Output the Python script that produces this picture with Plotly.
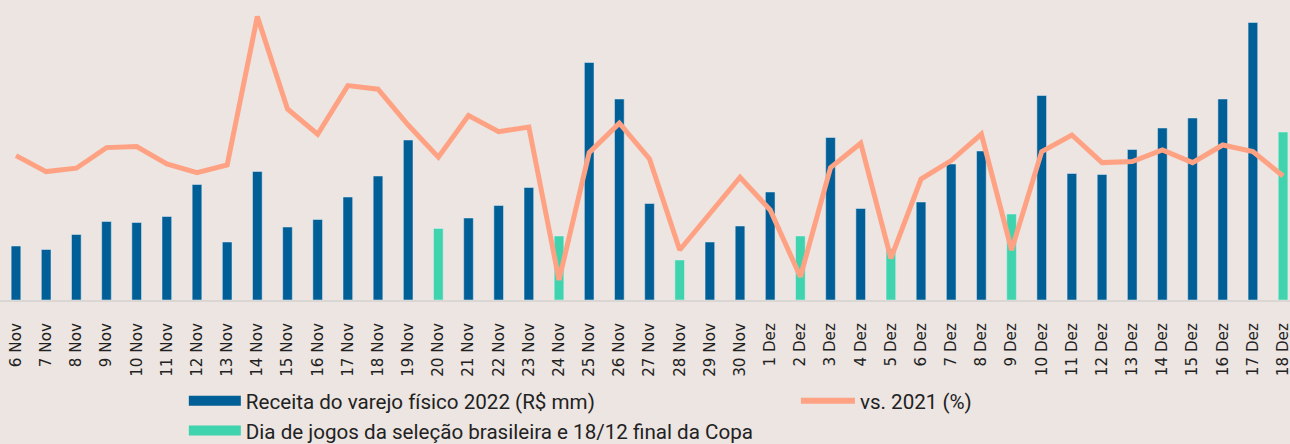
import plotly.graph_objects as go

dates = ["6 Nov", "7 Nov", "8 Nov", "9 Nov", "10 Nov", "11 Nov", "12 Nov", "13 Nov", "14 Nov",
         "15 Nov", "16 Nov", "17 Nov", "18 Nov", "19 Nov", "20 Nov", "21 Nov", "22 Nov", "23 Nov",
         "24 Nov", "25 Nov", "26 Nov", "27 Nov", "28 Nov", "29 Nov", "30 Nov",
         "1 Dez", "2 Dez", "3 Dez", "4 Dez", "5 Dez", "6 Dez", "7 Dez", "8 Dez", "9 Dez",
         "10 Dez", "11 Dez", "12 Dez", "13 Dez", "14 Dez", "15 Dez", "16 Dez", "17 Dez", "18 Dez"]

revenue_2022 = [540, 505, 655, 785, 775, 835, 1155, 580, 1285, 730, 805, 1030, 1240, 1600,
                715, 820, 945, 1125, 640, 2375, 2010, 965, 400, 580, 740,
                1080, 640, 1625, 915, 515, 980, 1360, 1490, 860, 2045, 1265, 1255, 1505,
                1720, 1820, 2010, 2775, 1680]

game_day = [0, 0, 0, 0, 0, 0, 0, 0, 0, 0, 0, 0, 0, 0,
            1, 0, 0, 0, 1, 0, 0, 0, 1, 0, 0,
            0, 1, 0, 0, 1, 0, 0, 0, 1, 0, 0, 0, 0,
            0, 0, 0, 0, 1]

vs_2021 = [22.2, 14.2, 15.9, 26.2, 26.7, 18.0, 13.7, 17.5, 91.7, 45.5, 32.9, 57.2, 55.4, 37.5,
           21.4, 42.2, 34.2, 36.5, -40.0, 23.7, 38.4, 20.5, -25.0, -6.7, 11.4,
           -5.0, -38.4, 16.2, 28.4, -29.2, 10.5, 19.7, 33.0, -25.0, 24.2, 32.5, 18.7, 19.2,
           25.0, 18.7, 27.5, 24.2, 12.0]

name_bar = "Receita do varejo físico 2022 (R$ mm)"
name_game = "Dia de jogos da seleção brasileira e 18/12 final da Copa"
name_line = "vs. 2021 (%)"

BLUE = "#005f96"
GREEN = "#3fd4ad"
SALMON = "#ffa284"

regular = [v if g == 0 else None for v, g in zip(revenue_2022, game_day)]
games = [v if g == 1 else None for v, g in zip(revenue_2022, game_day)]

fig = go.Figure()
fig.add_trace(go.Bar(x=dates, y=regular, marker_color=BLUE, width=0.32,
                     name=name_bar, showlegend=False))
fig.add_trace(go.Bar(x=dates, y=games, marker_color=GREEN, width=0.32,
                     name=name_game, showlegend=False))
fig.add_trace(go.Scatter(x=dates, y=vs_2021, mode="lines", yaxis="y2",
                         line=dict(color=SALMON, width=5), name=name_line,
                         showlegend=False))
# legend entries
fig.add_trace(go.Scatter(x=[None], y=[None], mode="lines", name=name_bar,
                         line=dict(color=BLUE, width=12), legend="legend"))
fig.add_trace(go.Scatter(x=[None], y=[None], mode="lines", name=name_game,
                         line=dict(color=GREEN, width=12), legend="legend"))
fig.add_trace(go.Scatter(x=[None], y=[None], mode="lines", name=name_line,
                         line=dict(color=SALMON, width=6), legend="legend2"))

fig.update_layout(
    width=1290, height=444,
    margin=dict(l=0, r=0, t=0, b=144, autoexpand=False),
    paper_bgcolor="#ece5e1",
    plot_bgcolor="rgba(0,0,0,0)",
    barmode="overlay",
    font=dict(family="Roboto", color="#222222"),
    xaxis=dict(range=[-0.53, 42.23], tickangle=-90, showgrid=False,
               showline=True, linecolor="#d9d6d4", linewidth=2,
               tickfont=dict(family="DejaVu Sans", size=15.2, color="#222222"),
               ticks="", ticklabelstandoff=15, automargin=False),
    yaxis=dict(range=[0, 3000], visible=False, showgrid=False),
    yaxis2=dict(range=[-50, 100], overlaying="y", visible=False, showgrid=False),
    legend=dict(x=0.1425, y=0.142, yref="container", xanchor="left", yanchor="top",
                bgcolor="rgba(0,0,0,0)", font=dict(family="Roboto", size=20.6, color="#222222"),
                itemwidth=52, tracegroupgap=0),
    legend2=dict(x=0.617, y=0.142, yref="container", xanchor="left", yanchor="top",
                 bgcolor="rgba(0,0,0,0)", font=dict(family="Roboto", size=20.6, color="#222222"),
                 itemwidth=54),
)

fig.write_html("out.html", config={"displayModeBar": False},
               post_script="document.body.style.margin='0';document.body.style.overflow='hidden';")
